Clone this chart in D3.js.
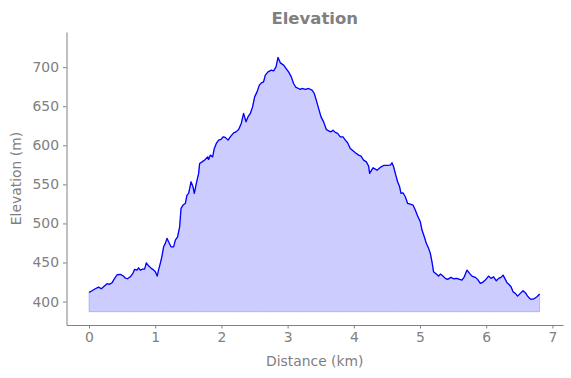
<!DOCTYPE html>
<html>
<head>
<meta charset="utf-8">
<script src="https://cdn.jsdelivr.net/npm/d3@7"></script>
<style>
  html, body { margin: 0; padding: 0; background: #fff; }
  svg { display: block; font-family: "DejaVu Sans", sans-serif; }
</style>
</head>
<body>
<div id="chart"></div>
<script>
(function () {
  'use strict';

  // Distance along the track (km)
  var distance = [
    0, 0.045, 0.095, 0.145, 0.186, 0.22, 0.272, 0.307, 0.347, 0.387,
    0.423, 0.473, 0.514, 0.548, 0.579, 0.624, 0.665, 0.689, 0.725, 0.749,
    0.775, 0.81, 0.84, 0.866, 0.9, 0.941, 0.976, 1.0, 1.03, 1.05,
    1.077, 1.10, 1.127, 1.153, 1.178, 1.202, 1.239, 1.278, 1.304, 1.338,
    1.369, 1.39, 1.42, 1.455, 1.48, 1.505, 1.541, 1.571, 1.591, 1.621,
    1.656, 1.671, 1.707, 1.757, 1.792, 1.807, 1.832, 1.867, 1.893, 1.923,
    1.958, 1.994, 2.024, 2.059, 2.10, 2.134, 2.184, 2.221, 2.26, 2.30,
    2.335, 2.372, 2.402, 2.437, 2.471, 2.502, 2.538, 2.573, 2.603, 2.637,
    2.663, 2.704, 2.754, 2.789, 2.825, 2.855, 2.89, 2.94, 2.976, 3.015,
    3.056, 3.09, 3.127, 3.166, 3.192, 3.218, 3.267, 3.317, 3.369, 3.403,
    3.433, 3.468, 3.505, 3.544, 3.585, 3.619, 3.656, 3.686, 3.72, 3.755,
    3.796, 3.837, 3.872, 3.906, 3.947, 3.988, 4.023, 4.073, 4.109, 4.148,
    4.189, 4.224, 4.239, 4.29, 4.35, 4.40, 4.45, 4.50, 4.551, 4.577,
    4.601, 4.627, 4.662, 4.692, 4.713, 4.743, 4.778, 4.813, 4.853, 4.894,
    4.929, 4.964, 5.005, 5.03, 5.065, 5.095, 5.13, 5.156, 5.181, 5.205,
    5.246, 5.281, 5.307, 5.347, 5.382, 5.417, 5.468, 5.508, 5.559, 5.598,
    5.634, 5.669, 5.71, 5.749, 5.785, 5.835, 5.87, 5.911, 5.952, 5.986,
    6.036, 6.073, 6.112, 6.153, 6.187, 6.224, 6.254, 6.289, 6.314, 6.338,
    6.375, 6.405, 6.44, 6.474, 6.515, 6.556, 6.591, 6.625, 6.666, 6.716,
    6.767, 6.807
  ];

  // Elevation (m)
  var elevation = [
    411.8, 413.8, 416.4, 418.5, 416.4, 418.9, 422.8, 422.0, 424.0, 429.7,
    434.3, 434.8, 433.0, 430.1, 429.2, 431.7, 436.5, 441.2, 440.3, 443.2,
    440.3, 441.6, 441.6, 449.6, 445.8, 442.5, 440.3, 438.6, 432.6, 440.3,
    448.9, 457.3, 470.1, 474.5, 480.9, 476.5, 470.1, 470.1, 478.7, 482.9,
    495.7, 519.2, 523.5, 525.6, 536.2, 538.4, 553.3, 546.9, 538.4, 551.2,
    564.0, 576.8, 578.8, 581.9, 585.2, 581.9, 587.4, 585.2, 596.0, 602.4,
    606.6, 607.5, 610.8, 610.1, 606.6, 610.8, 615.9, 617.2, 620.3, 628.0,
    640.8, 630.0, 636.4, 640.8, 649.2, 662.0, 668.4, 677.0, 679.9, 681.2,
    689.8, 694.0, 696.2, 695.3, 700.4, 712.4, 705.5, 702.6, 698.3, 694.0,
    687.6, 679.1, 674.0, 672.7, 671.5, 672.7, 671.5, 672.7, 670.6, 666.3,
    657.8, 647.2, 636.4, 630.0, 620.3, 618.5, 617.2, 619.4, 616.5, 615.2,
    610.8, 610.8, 606.6, 603.2, 596.0, 592.9, 590.4, 587.4, 586.1, 581.0,
    578.8, 573.3, 564.0, 571.2, 568.2, 571.7, 574.2, 574.2, 574.6, 577.6,
    572.5, 564.0, 553.3, 546.9, 538.4, 539.2, 534.1, 525.6, 524.7, 523.5,
    517.1, 509.4, 502.1, 491.5, 482.9, 474.5, 468.1, 461.7, 450.9, 438.1,
    435.2, 432.6, 435.2, 432.6, 429.7, 428.4, 431.0, 429.2, 429.7, 428.4,
    427.5, 431.7, 440.3, 436.1, 432.6, 431.0, 428.4, 423.3, 424.9, 427.5,
    432.6, 429.7, 431.7, 426.6, 429.7, 431.0, 433.9, 428.4, 424.1, 422.4,
    418.9, 412.5, 410.5, 407.0, 410.5, 413.8, 411.3, 407.0, 403.2, 403.2,
    406.1, 409.6
  ];

  var fillBase = 387;
  var xTicks = [0, 1, 2, 3, 4, 5, 6, 7];
  var yTicks = [400, 450, 500, 550, 600, 650, 700];

  var width = 571, height = 378;
  var margin = { top: 32, right: 8, bottom: 53, left: 66.5 };
  var plotW = width - margin.left - margin.right;
  var plotH = height - margin.top - margin.bottom;
  var grey = '#808080';

  var data = distance.map(function (d, i) { return { d: d, e: elevation[i] }; });

  var svg = d3.select('#chart').append('svg')
    .attr('width', width)
    .attr('height', height);

  var g = svg.append('g')
    .attr('transform', 'translate(' + margin.left + ',' + margin.top + ')');

  var x = d3.scaleLinear().domain([-0.34, 7.16]).range([0, plotW]);
  var y = d3.scaleLinear().domain([370, 745]).range([plotH, 0]);

  // Filled area under the profile
  var area = d3.area()
    .x(function (p) { return x(p.d); })
    .y0(y(fillBase))
    .y1(function (p) { return y(p.e); });

  g.append('path')
    .datum(data)
    .attr('d', area)
    .attr('fill', 'blue')
    .attr('fill-opacity', 0.2)
    .attr('stroke', 'blue')
    .attr('stroke-opacity', 0.2)
    .attr('stroke-width', 1);

  var line = d3.line()
    .x(function (p) { return x(p.d); })
    .y(function (p) { return y(p.e); });

  g.append('path')
    .datum(data)
    .attr('d', line)
    .attr('fill', 'none')
    .attr('stroke', 'blue')
    .attr('stroke-width', 1.3)
    .attr('stroke-linejoin', 'round');

  // Axes (left and bottom spines only)
  var xAxis = g.append('g')
    .attr('transform', 'translate(0,' + plotH + ')')
    .call(d3.axisBottom(x).tickValues(xTicks).tickSizeInner(3.5).tickSizeOuter(0)
      .tickPadding(4).tickFormat(d3.format('d')));

  var yAxis = g.append('g')
    .call(d3.axisLeft(y).tickValues(yTicks).tickSizeInner(3.5).tickSizeOuter(0)
      .tickPadding(4).tickFormat(d3.format('d')));

  [xAxis, yAxis].forEach(function (ax) {
    ax.select('.domain').attr('stroke', grey).attr('stroke-width', 1);
    ax.selectAll('.tick line').attr('stroke', grey).attr('stroke-width', 1);
    ax.selectAll('.tick text')
      .attr('fill', grey)
      .style('font-size', '13.9px')
      .style('font-family', '"DejaVu Sans", sans-serif');
  });

  // Title and axis labels
  svg.append('text')
    .attr('x', margin.left + plotW / 2)
    .attr('y', 24)
    .attr('text-anchor', 'middle')
    .attr('fill', grey)
    .style('font-size', '16.5px')
    .style('font-weight', 'bold')
    .text('Elevation');

  svg.append('text')
    .attr('x', margin.left + plotW / 2)
    .attr('y', 366)
    .attr('text-anchor', 'middle')
    .attr('fill', grey)
    .style('font-size', '13.9px')
    .text('Distance (km)');

  svg.append('text')
    .attr('transform', 'translate(21,' + (margin.top + plotH / 2) + ') rotate(-90)')
    .attr('text-anchor', 'middle')
    .attr('fill', grey)
    .style('font-size', '13.9px')
    .text('Elevation (m)');
})();
</script>
</body>
</html>
